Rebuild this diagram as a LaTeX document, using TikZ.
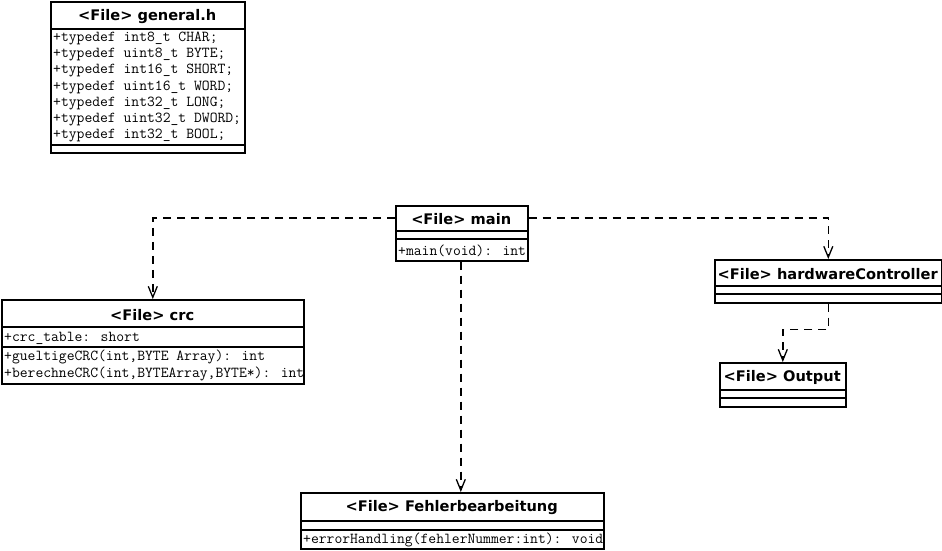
\documentclass[tikz,border=0pt]{standalone}
\usepackage{fontspec}
\setmainfont{DejaVu Sans}
\usetikzlibrary{arrows.meta}
\begin{document}
\begin{tikzpicture}[x=1pt,y=-1pt,
  box/.style={draw, line width=1.6pt, inner sep=0, anchor=north west},
  ttl/.style={font=\bfseries\fontsize{14.6}{14.6}\selectfont, inner sep=0, anchor=north west},
  sepline/.style={line width=1.6pt},
  mem/.style={font=\ttfamily\fontsize{15.2}{15.2}\selectfont, anchor=west, inner sep=0},
  dep/.style={dash pattern=on 8pt off 6pt, line width=1.5pt, -{Straight Barb[length=11pt,width=9pt,line width=1.3pt]}}]
\useasboundingbox (0,0) rectangle (942,550);
\fill[white] (0,0) rectangle (942,550);

% general.h
\node[box, minimum width=194, minimum height=151] (genbox) at (50,1) {};
\node[ttl, minimum width=194, minimum height=31] (gen) at (50,1) {<File> general.h};
\draw[sepline] (genbox.west |- 0,29) -- (genbox.east |- 0,29);
\draw[sepline] (genbox.west |- 0,145) -- (genbox.east |- 0,145);
\node[mem] (g1) at (53,38) {+typedef int8\_t CHAR;};
\node[mem] (g2) at (53,54) {+typedef uint8\_t BYTE;};
\node[mem] (g3) at (53,70.5) {+typedef int16\_t SHORT;};
\node[mem] (g4) at (53,87) {+typedef uint16\_t WORD;};
\node[mem] (g5) at (53,103) {+typedef int32\_t LONG;};
\node[mem] (g6) at (53,119) {+typedef uint32\_t DWORD;};
\node[mem] (g7) at (53,135) {+typedef int32\_t BOOL;};

% main
\node[box, minimum width=132, minimum height=55] (mainbox) at (395,205) {};
\node[ttl, minimum width=132, minimum height=28] (main) at (395,205) {<File> main};
\draw[sepline] (mainbox.west |- 0,231) -- (mainbox.east |- 0,231);
\draw[sepline] (mainbox.west |- 0,239) -- (mainbox.east |- 0,239);
\node[mem] (m1) at (398,251) {+main(void): int};

% crc
\node[box, minimum width=302, minimum height=84] (crcbox) at (1,299) {};
\node[ttl, minimum width=302, minimum height=31] (crc) at (1,299) {<File> crc};
\draw[sepline] (crcbox.west |- 0,327) -- (crcbox.east |- 0,327);
\draw[sepline] (crcbox.west |- 0,347) -- (crcbox.east |- 0,347);
\node[mem] (c1) at (4,338) {+crc\_table: short};
\node[mem] (c2) at (4,357) {+gueltigeCRC(int,BYTE Array): int};
\node[mem] (c3) at (4,374) {+berechneCRC(int,BYTEArray,BYTE*): int};

% hardwareController
\node[box, minimum width=227, minimum height=43] (hwbox) at (714,259) {};
\node[ttl, minimum width=227, minimum height=29] (hw) at (714,259) {<File> hardwareController};
\draw[sepline] (hwbox.west |- 0,286) -- (hwbox.east |- 0,286);
\draw[sepline] (hwbox.west |- 0,294) -- (hwbox.east |- 0,294);

% Output
\node[box, minimum width=126, minimum height=44] (outbox) at (719,362) {};
\node[ttl, minimum width=126, minimum height=30] (out) at (719,362) {<File> Output};
\draw[sepline] (outbox.west |- 0,390) -- (outbox.east |- 0,390);
\draw[sepline] (outbox.west |- 0,398) -- (outbox.east |- 0,398);

% Fehlerbearbeitung
\node[box, minimum width=303, minimum height=56] (febox) at (300,492) {};
\node[ttl, minimum width=303, minimum height=31] (fe) at (300,492) {<File> Fehlerbearbeitung};
\draw[sepline] (febox.west |- 0,521) -- (febox.east |- 0,521);
\draw[sepline] (febox.west |- 0,530) -- (febox.east |- 0,530);
\node[mem] (f1) at (303,540) {+errorHandling(fehlerNummer:int): void};

% dependencies
\draw[dep] (mainbox.west |- 0,218) -| (crcbox.north);
\draw[dep] (mainbox.east |- 0,218) -| (hwbox.north);
\draw[dep] ([xshift=-1pt]mainbox.south) -- ([xshift=-1pt]mainbox.south |- febox.north);
\draw[dep] (hwbox.south) -- ++(0,26) -| (outbox.north);
\end{tikzpicture}
\end{document}
